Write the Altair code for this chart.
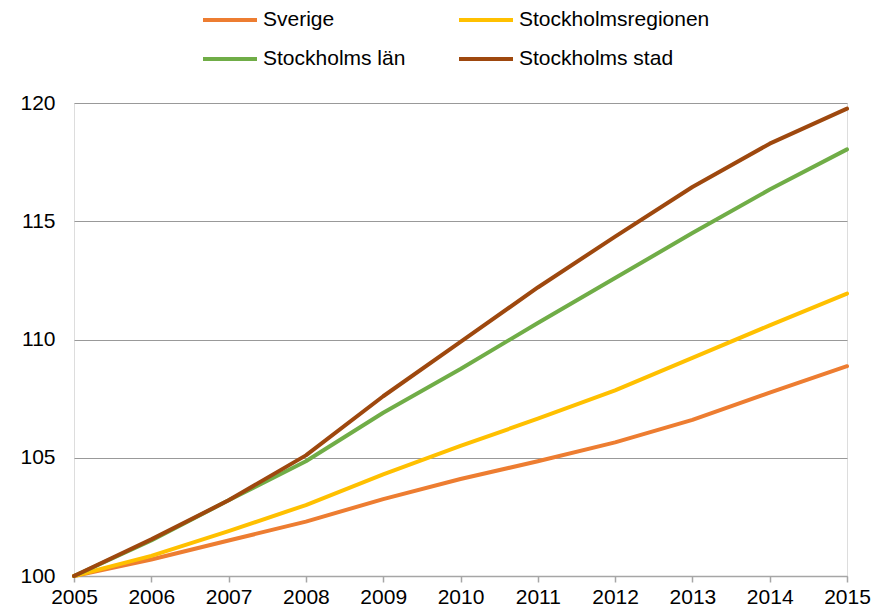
import altair as alt
import pandas as pd

years = [2005, 2006, 2007, 2008, 2009, 2010, 2011, 2012, 2013, 2014, 2015]
series_names = ["Sverige", "Stockholmsregionen", "Stockholms län", "Stockholms stad"]
sverige = [100.0, 100.7, 101.5, 102.3, 103.25, 104.1, 104.85, 105.65, 106.6, 107.75, 108.87]
regionen = [100.0, 100.85, 101.9, 103.0, 104.3, 105.5, 106.65, 107.85, 109.22, 110.6, 111.94]
lan = [100.0, 101.5, 103.2, 104.85, 106.9, 108.75, 110.7, 112.6, 114.5, 116.34, 118.04]
stad = [100.0, 101.55, 103.2, 105.1, 107.6, 109.9, 112.2, 114.35, 116.45, 118.28, 119.76]
colors = ["#ED7D31", "#FFC000", "#70AD47", "#9E480E"]

rows = []
for name, vals in zip(series_names, [sverige, regionen, lan, stad]):
    for y, v in zip(years, vals):
        rows.append({"year": y, "value": v, "serie": name, "ord": series_names.index(name)})
df = pd.DataFrame(rows)

FONT = "Liberation Sans"

chart = alt.Chart(df).mark_line(strokeWidth=4, strokeCap="round", strokeJoin="round").encode(
    x=alt.X("year:Q",
            scale=alt.Scale(domain=[2005, 2015], nice=False, zero=False),
            axis=alt.Axis(values=years, format="d", title=None, grid=False,
                          domainColor="#A6A6A6", domainWidth=1.5,
                          tickColor="#A6A6A6", tickSize=6, tickWidth=1.5,
                          labelFont=FONT, labelFontSize=21, labelColor="#000000",
                          labelPadding=4, labelFlush=False)),
    y=alt.Y("value:Q",
            scale=alt.Scale(domain=[100, 120], nice=False, zero=False),
            axis=alt.Axis(values=[100, 105, 110, 115, 120], title=None,
                          domain=False, ticks=False, grid=True,
                          gridColor="#999999", gridWidth=1.2,
                          labelFont=FONT, labelFontSize=21, labelColor="#000000",
                          labelPadding=19)),
    color=alt.Color("serie:N",
                    scale=alt.Scale(domain=series_names, range=colors),
                    sort=series_names,
                    legend=alt.Legend(title=None, orient="none", legendX=127, legendY=-112,
                                      columns=2, direction="horizontal",
                                      symbolType="stroke", symbolSize=2916,
                                      symbolStrokeWidth=4, labelFont=FONT,
                                      labelFontSize=21, labelColor="#000000",
                                      labelOffset=4, columnPadding=45, rowPadding=-14,
                                      padding=0, labelLimit=400)),
    order=alt.Order("ord:Q"),
).properties(
    width=773, height=473,
    autosize=alt.AutoSizeParams(type="none"),
    padding={"left": 66, "top": 95, "right": 33, "bottom": 30},
).configure_view(stroke=None).configure(background="#FFFFFF")

chart.save("out.html", embed_options={"renderer": "svg", "actions": False})
